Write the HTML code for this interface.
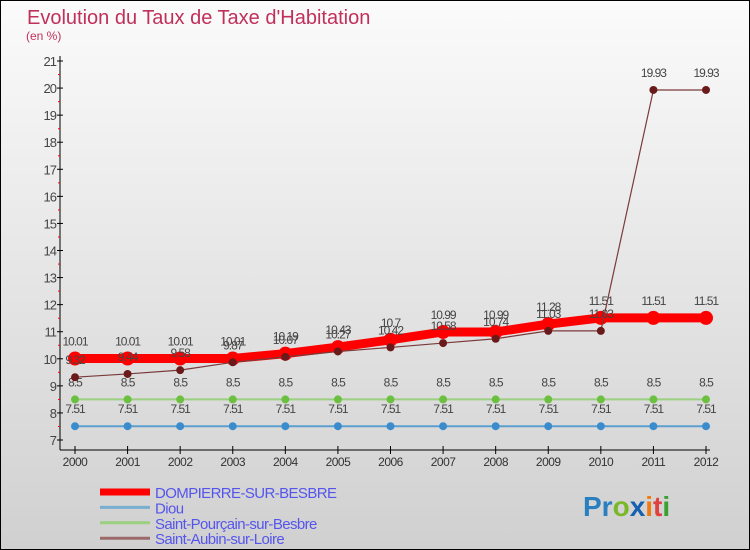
<!DOCTYPE html>
<html><head><meta charset="utf-8"><style>
body{margin:0;}
#c{width:750px;height:550px;position:relative;overflow:hidden;font-family:"Liberation Sans",sans-serif;background:linear-gradient(#fbfbfb,#d0d0d0);}
</style></head><body>
<div id="c">
<svg id="s" width="750" height="550" xmlns="http://www.w3.org/2000/svg">
<rect x="0.5" y="0.5" width="749" height="549" fill="none" stroke="#000"/>
<text x="27" y="24" font-size="20" fill="#c0305a">Evolution du Taux de Taxe d'Habitation</text>
<text x="26" y="40" font-size="12" fill="#c0305a">(en %)</text>
<g id="axes"></g>
<g id="series"></g>
<g id="legend"></g>
<text x="583" y="516" font-size="28" font-weight="bold"><tspan fill="#2a7fc0">Pr</tspan><tspan fill="#7ab82a">o</tspan><tspan fill="#1560b0">x</tspan><tspan fill="#f07a10">i</tspan><tspan fill="#e04040">t</tspan><tspan fill="#3aa030">i</tspan></text>
</svg>
</div>
<script>
const years=[2000,2001,2002,2003,2004,2005,2006,2007,2008,2009,2010,2011,2012];
const dompierre=[10.01,10.01,10.01,10.01,10.19,10.43,10.7,10.99,10.99,11.28,11.51,11.51,11.51];
const diou=[7.51,7.51,7.51,7.51,7.51,7.51,7.51,7.51,7.51,7.51,7.51,7.51,7.51];
const pourcain=[8.5,8.5,8.5,8.5,8.5,8.5,8.5,8.5,8.5,8.5,8.5,8.5,8.5];
const aubin=[9.32,9.44,9.58,9.87,10.07,10.27,10.42,10.58,10.74,11.03,11.03,19.93,19.93];
const yTicks=[7,8,9,10,11,12,13,14,15,16,17,18,19,20,21];
const seriesNames=["DOMPIERRE-SUR-BESBRE","Diou","Saint-Pourçain-sur-Besbre","Saint-Aubin-sur-Loire"];
const NS="http://www.w3.org/2000/svg";
const xS=i=>75+i*(706-75)/(years.length-1);
const yS=v=>440-(v-7)*(440-61)/14;
function mk(p,t,a){const e=document.createElementNS(NS,t);for(const k in a)e.setAttribute(k,a[k]);p.appendChild(e);return e;}
const ax=document.getElementById('axes');
let e=mk(ax,'line',{x1:60,y1:56,x2:60,y2:450,stroke:'#000'});


e=mk(ax,'line',{x1:60,y1:450,x2:710,y2:450,stroke:'#000'});


yTicks.forEach(v=>{
 const y=yS(v);
 mk(ax,'line',{x1:57,y1:y,x2:63,y2:y,stroke:'#000'});
 if(v<21)mk(ax,'line',{x1:58,y1:y-13.5,x2:60,y2:y-13.5,stroke:'#f00'});
 const t=mk(ax,'text',{x:56,y:y+5,'font-size':13,fill:'#444','text-anchor':'end','letter-spacing':'-1'});
 t.textContent=v;
 
 
});
years.forEach((yr,i)=>{
 const x=xS(i);
 mk(ax,'line',{x1:x,y1:446,x2:x,y2:454,stroke:'#000'});
 const t=mk(ax,'text',{x:x,y:466,'font-size':12,fill:'#333','text-anchor':'middle','letter-spacing':'-0.5'});
 t.textContent=yr;
 
 
});
const sg=document.getElementById('series');
function draw(vals,color,w,r,name,dot){
 const g=mk(sg,'g',{});
 
 
 mk(g,'polyline',{points:vals.map((v,i)=>xS(i)+','+yS(v)).join(' '),fill:'none',stroke:color,'stroke-width':w});
 vals.forEach((v,i)=>{
  const c=mk(g,'circle',{cx:xS(i),cy:yS(v),r:r,fill:dot});
  
  
  const t=mk(g,'text',{x:xS(i),y:yS(v)-13,'font-size':12,fill:'#444','text-anchor':'middle','letter-spacing':'-1'});
  t.textContent=v;
  
  
 });
}
draw(diou,'#5a9fd0',2,4,'series-diou','#3a8ccc');
draw(pourcain,'#9ad080',2,4,'series-pourcain','#6cc040');
draw(dompierre,'#f00',9,7,'series-dompierre','#f00');
draw(aubin,'#7a3a3a',1.2,4,'series-aubin','#6a1a1a');
const lg=document.getElementById('legend');
const lc=['#f00','#7aaed0','#9ad080','#9a6a6a'],lw=[7,3,3,3];
seriesNames.forEach((n,i)=>{
 const y=492+i*15.4;
 const g=mk(lg,'g',{});
 
 
 mk(g,'line',{x1:100,y1:y,x2:150,y2:y,stroke:lc[i],'stroke-width':lw[i]});
 const t=mk(g,'text',{x:155,y:y+6,'font-size':15,fill:'#5555ee','letter-spacing':'-0.6'});
 t.textContent=n;
});
</script>
</body></html>
